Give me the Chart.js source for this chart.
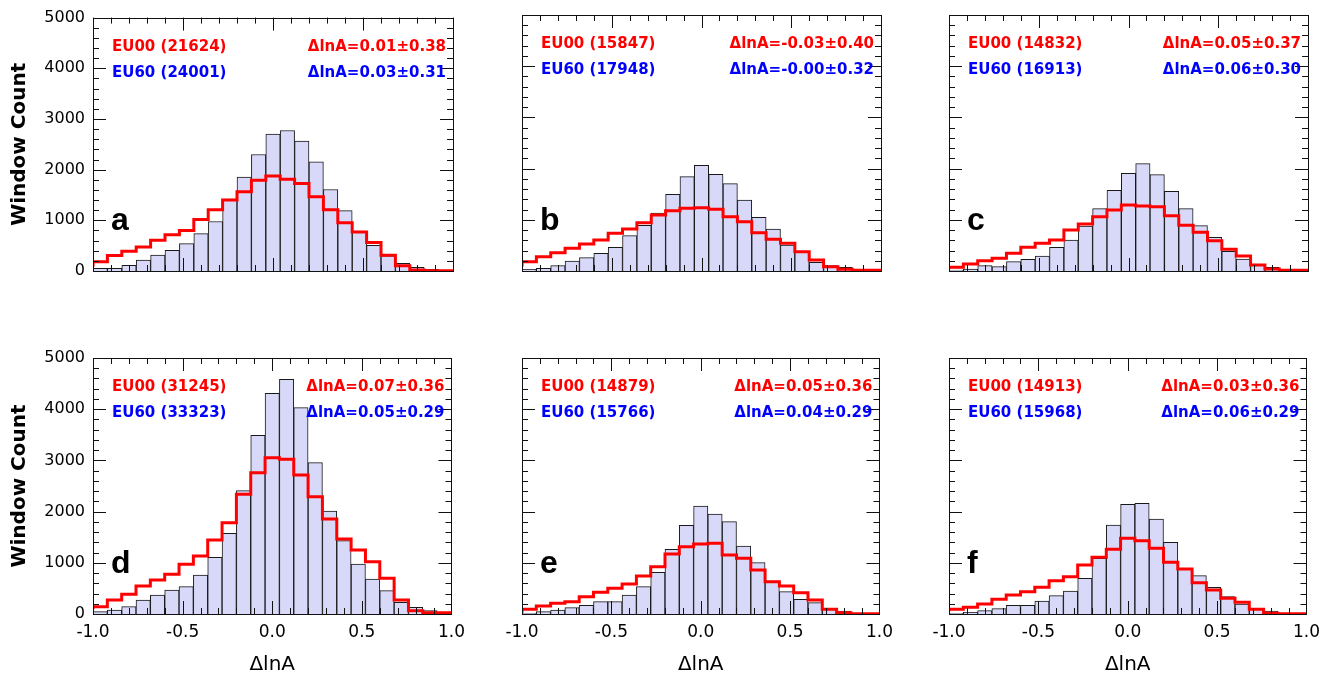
<!DOCTYPE html>
<html>
<head>
<meta charset="utf-8">
<title>ΔlnA histograms</title>
<script src="https://cdn.jsdelivr.net/npm/chart.js@4.4.0/dist/chart.umd.min.js"></script>
<style>
  html, body { margin: 0; padding: 0; background: #fff; }
  body { width: 1339px; height: 677px; position: relative; overflow: hidden; }
  canvas { position: absolute; }
</style>
</head>
<body>
<canvas id="panel-a"></canvas>
<canvas id="panel-b"></canvas>
<canvas id="panel-c"></canvas>
<canvas id="panel-d"></canvas>
<canvas id="panel-e"></canvas>
<canvas id="panel-f"></canvas>
<script>
// Bin edges of the ΔlnA histograms (25 bins of 0.08)
const binEdges = [-1.00, -0.92, -0.84, -0.76, -0.68, -0.60, -0.52, -0.44, -0.36, -0.28, -0.20, -0.12, -0.04,
                  0.04, 0.12, 0.20, 0.28, 0.36, 0.44, 0.52, 0.60, 0.68, 0.76, 0.84, 0.92, 1.00];

// Axis ticks
const xTickValues = [-1.0, -0.5, 0.0, 0.5, 1.0];
const yTickValues = [0, 1000, 2000, 3000, 4000, 5000];

// Panel annotations
const panelLetters = ['a', 'b', 'c', 'd', 'e', 'f'];
const eu00Counts = [21624, 15847, 14832, 31245, 14879, 14913];
const eu60Counts = [24001, 17948, 16913, 33323, 15766, 15968];
const eu00Stats = ['0.01±0.38', '-0.03±0.40', '0.05±0.37', '0.07±0.36', '0.05±0.36', '0.03±0.36'];
const eu60Stats = ['0.03±0.31', '-0.00±0.32', '0.06±0.30', '0.05±0.29', '0.04±0.29', '0.06±0.29'];

// EU60 histograms (filled bars)
const eu60A = [52, 52, 111, 215, 312, 410, 540, 736, 977, 1419, 1855, 2298, 2702, 2773, 2565, 2155, 1608, 1191, 781, 508, 300, 150, 72, 33, 7];
const eu60B = [33, 52, 104, 195, 260, 345, 462, 690, 892, 1133, 1497, 1842, 2064, 1888, 1706, 1387, 1048, 820, 508, 378, 169, 104, 72, 20, 7];
const eu60C = [20, 39, 104, 85, 182, 228, 293, 462, 605, 879, 1217, 1575, 1907, 2096, 1881, 1556, 1217, 885, 657, 384, 234, 130, 72, 33, 7];
const eu60D = [46, 78, 143, 273, 371, 469, 534, 762, 1107, 1575, 2409, 3489, 4310, 4583, 4030, 2956, 2012, 1432, 977, 684, 456, 228, 130, 65, 26];
const eu60E = [13, 46, 78, 124, 169, 241, 241, 371, 534, 814, 1263, 1732, 2109, 1953, 1803, 1328, 1003, 645, 436, 286, 221, 111, 59, 13, 7];
const eu60F = [13, 33, 65, 104, 169, 169, 254, 358, 449, 697, 1087, 1738, 2142, 2161, 1855, 1400, 872, 749, 521, 339, 195, 111, 59, 20, 7];

// EU00 histograms (red step line)
const eu00A = [85, 182, 306, 391, 475, 605, 716, 800, 1016, 1211, 1400, 1562, 1790, 1875, 1810, 1725, 1465, 1211, 950, 768, 560, 312, 104, 20, 7];
const eu00B = [85, 182, 280, 358, 443, 527, 605, 736, 820, 944, 1094, 1178, 1224, 1237, 1204, 1061, 963, 749, 618, 540, 378, 215, 85, 33, 13];
const eu00C = [39, 72, 137, 202, 247, 345, 462, 540, 605, 800, 920, 1061, 1191, 1289, 1269, 1256, 1081, 892, 755, 592, 423, 293, 117, 39, 13];
const eu00D = [91, 143, 273, 384, 547, 664, 775, 970, 1133, 1445, 1784, 2337, 2760, 3053, 3021, 2715, 2292, 1855, 1465, 1250, 1022, 697, 273, 65, 26];
const eu00E = [26, 91, 156, 208, 241, 339, 423, 501, 586, 742, 924, 1172, 1315, 1367, 1380, 1152, 1087, 859, 631, 547, 417, 273, 91, 26, 7];
const eu00F = [52, 91, 130, 195, 286, 371, 436, 521, 651, 729, 957, 1107, 1263, 1478, 1432, 1283, 1009, 879, 612, 469, 306, 228, 91, 13, 7];

const eu60Series = [eu60A, eu60B, eu60C, eu60D, eu60E, eu60F];
const eu00Series = [eu00A, eu00B, eu00C, eu00D, eu00E, eu00F];

// Page layout
const plotLeft = [93, 522, 949];
const plotRight = [453, 881, 1308];
const AXIS_W = 93;
const RIGHT_PAD = 20;

const FONT = '"DejaVu Sans", sans-serif';
Chart.defaults.font.family = FONT;
Chart.defaults.color = '#000';

// Frame, inward ticks, annotations
const framePlugin = {
    id: 'frame',
    afterDatasetsDraw(chart, args, opts) {
        const { ctx, chartArea: ca, scales: { x, y } } = chart;
        ctx.save();
        ctx.strokeStyle = '#111';
        ctx.lineWidth = 1;
        ctx.beginPath();
        for (let v = 0; v <= 5000; v += 200) {
            const py = Math.round(y.getPixelForValue(v)) + 0.5;
            const len = v % 1000 === 0 ? 13 : 6;
            ctx.moveTo(ca.left, py); ctx.lineTo(ca.left + len, py);
            ctx.moveTo(ca.right, py); ctx.lineTo(ca.right - len, py);
        }
        for (let i = -10; i <= 10; i++) {
            const px = Math.round(x.getPixelForValue(i / 10)) + 0.5;
            const len = i % 5 === 0 ? 13 : 6;
            ctx.moveTo(px, ca.bottom); ctx.lineTo(px, ca.bottom - len);
            ctx.moveTo(px, ca.top); ctx.lineTo(px, ca.top + len);
        }
        ctx.stroke();
        ctx.strokeRect(Math.round(ca.left) + 0.5, Math.round(ca.top) + 0.5,
            Math.round(ca.right - ca.left), Math.round(ca.bottom - ca.top));

        // legend-like annotations
        const i = opts.index;
        ctx.font = 'bold 15px ' + FONT;
        ctx.textBaseline = 'alphabetic';
        ctx.textAlign = 'left';
        ctx.fillStyle = '#ff0000';
        ctx.fillText('EU00 (' + eu00Counts[i] + ')', ca.left + 19, ca.top + 33);
        ctx.fillStyle = '#0000ff';
        ctx.fillText('EU60 (' + eu60Counts[i] + ')', ca.left + 19, ca.top + 59);
        ctx.textAlign = 'right';
        ctx.fillStyle = '#ff0000';
        ctx.fillText('ΔlnA=' + eu00Stats[i], ca.right - 7, ca.top + 33);
        ctx.fillStyle = '#0000ff';
        ctx.fillText('ΔlnA=' + eu60Stats[i], ca.right - 7, ca.top + 59);

        // panel letter
        ctx.textAlign = 'left';
        ctx.fillStyle = '#000';
        ctx.font = 'bold 32px "Liberation Sans", Arial, sans-serif';
        ctx.fillText(panelLetters[i], ca.left + 18, ca.bottom - 41);
        ctx.restore();
    }
};

function createPanel(index) {
    const col = index % 3;
    const row = Math.floor(index / 3);
    const canvas = document.getElementById('panel-' + panelLetters[index]);
    const width = (plotRight[col] - plotLeft[col]) + AXIS_W + RIGHT_PAD;
    const height = row === 0 ? 290 : 337;
    canvas.width = width;
    canvas.height = height;
    canvas.style.left = (plotLeft[col] - AXIS_W) + 'px';
    canvas.style.top = (row === 0 ? 0 : 340) + 'px';

    const showY = col === 0;
    const showX = row === 1;

    const bars = eu60Series[index].map((v, k) => ({ x: (binEdges[k] + binEdges[k + 1]) / 2, y: v }));
    const red = eu00Series[index];
    const steps = red.map((v, k) => ({ x: binEdges[k], y: v }));
    steps.push({ x: binEdges[binEdges.length - 1], y: red[red.length - 1] });

    return new Chart(canvas.getContext('2d'), {
        type: 'bar',
        data: {
            datasets: [{
                type: 'line',
                label: 'EU00',
                data: steps,
                stepped: 'after',
                borderColor: '#ff0000',
                borderWidth: 3,
                borderJoinStyle: 'miter',
                pointRadius: 0,
                fill: false,
                order: 0
            }, {
                type: 'bar',
                label: 'EU60',
                data: bars,
                backgroundColor: 'rgb(216, 216, 248)',
                borderColor: 'rgb(25, 25, 25)',
                borderWidth: 1,
                borderSkipped: 'bottom',
                barPercentage: 1,
                categoryPercentage: 1,
                order: 1
            }]
        },
        options: {
            responsive: false,
            animation: false,
            devicePixelRatio: 1,
            layout: {
                padding: {
                    left: showY ? 0 : AXIS_W,
                    right: RIGHT_PAD,
                    top: row === 0 ? 15 : 18,
                    bottom: showX ? 0 : 19
                }
            },
            plugins: {
                legend: { display: false },
                tooltip: { enabled: false },
                frame: { index: index }
            },
            scales: {
                x: {
                    type: 'linear',
                    min: -1,
                    max: 1,
                    offset: false,
                    display: showX,
                    grid: { display: false, drawTicks: false },
                    border: { display: false },
                    afterBuildTicks: (scale) => { scale.ticks = xTickValues.map(v => ({ value: v })); },
                    afterFit: (scale) => { if (showX) scale.height = 63; },
                    ticks: {
                        padding: 8,
                        maxRotation: 0,
                        font: { size: 17 },
                        callback: (v) => Number(v).toFixed(1)
                    },
                    title: {
                        display: true,
                        text: 'ΔlnA',
                        font: { size: 20 },
                        padding: { top: 0, bottom: 0 }
                    }
                },
                y: {
                    min: 0,
                    max: 5000,
                    display: showY,
                    grid: { display: false, drawTicks: false },
                    border: { display: false },
                    afterBuildTicks: (scale) => { scale.ticks = yTickValues.map(v => ({ value: v })); },
                    afterFit: (scale) => { if (showY) scale.width = AXIS_W; },
                    ticks: {
                        padding: 8,
                        font: { size: 16 },
                        callback: (v) => String(v)
                    },
                    title: {
                        display: true,
                        text: 'Window Count',
                        font: { size: 20, weight: 'bold' },
                        padding: { top: 8, bottom: 0 }
                    }
                }
            }
        },
        plugins: [framePlugin]
    });
}

panelLetters.forEach((letter, i) => createPanel(i));
</script>
</body>
</html>
